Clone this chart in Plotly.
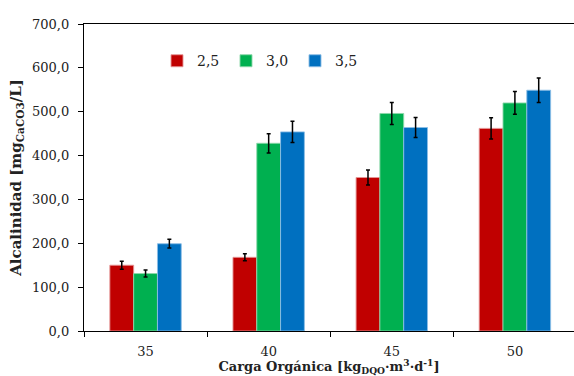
import plotly.graph_objects as go

# Organic loading rate categories (x axis)
cargas = ["35", "40", "45", "50"]

# Alkalinity per series, mg CaCO3/L
serie_25 = [150, 168, 350, 462]
serie_30 = [131, 428, 496, 520]
serie_35 = [199, 454, 464, 549]

# Standard deviations for the error bars
err_25 = [9, 8, 17, 24]
err_30 = [8, 22, 25, 26]
err_35 = [10, 24, 23, 28]

series = [
    ("2,5", serie_25, err_25, "#C00000", "rgba(230,150,150,0.9)"),
    ("3,0", serie_30, err_30, "#00B050", "rgba(140,215,170,0.9)"),
    ("3,5", serie_35, err_35, "#0070C0", "rgba(140,190,230,0.9)"),
]

font_serif = "DejaVu Serif, Liberation Serif, serif"

fig = go.Figure()
for name, vals, errs, color, edge in series:
    fig.add_trace(go.Bar(
        x=cargas, y=vals, name=name,
        marker=dict(color=color, line=dict(color=edge, width=1)),
        error_y=dict(type="data", array=errs, visible=True,
                     color="black", thickness=1.5, width=2),
    ))

fig.update_layout(
    width=574, height=376,
    margin=dict(l=84, r=0, t=24, b=45),
    paper_bgcolor="white", plot_bgcolor="white",
    barmode="group", bargap=0.42, bargroupgap=0,
    separators=",.",
    font=dict(family=font_serif, size=13, color="#222"),
    showlegend=True,
    legend=dict(
        orientation="h", x=0.149, y=0.879, xanchor="left", yanchor="middle",
        entrywidth=24, entrywidthmode="pixels",
        font=dict(family=font_serif, size=14, color="#222"),
        bgcolor="rgba(0,0,0,0)", itemclick=False,
    ),
    xaxis=dict(
        type="category", range=[-0.5, 3.48],
        showline=True, linecolor="black", linewidth=1.3, mirror=True,
        ticks="outside", ticklen=5, tickcolor="black", tickwidth=1,
        tickson="boundaries", showgrid=False,
        ticklabelstandoff=8,
        tickfont=dict(family=font_serif, size=13, color="#222"),
        title=dict(
            text="<b>Carga Orgánica [kg<sub>DQO</sub>·m<sup>3</sup>·d<sup>-1</sup>]</b>",
            font=dict(family=font_serif, size=13, color="#222"),
            standoff=3,
        ),
    ),
    yaxis=dict(
        range=[0, 700], dtick=100, tickformat=".1f",
        showline=True, linecolor="black", linewidth=1.3,
        ticks="outside", ticklen=5, tickcolor="black", tickwidth=1,
        showgrid=False, zeroline=False,
        ticklabelstandoff=6,
        tickfont=dict(family=font_serif, size=13, color="#222"),
        title=dict(
            text="<b>Alcalinidad [mg<sub>CaCO3</sub>/L]</b>",
            font=dict(family=font_serif, size=15, color="#222"),
            standoff=6,
        ),
    ),
)

fig.write_html("out.html")
